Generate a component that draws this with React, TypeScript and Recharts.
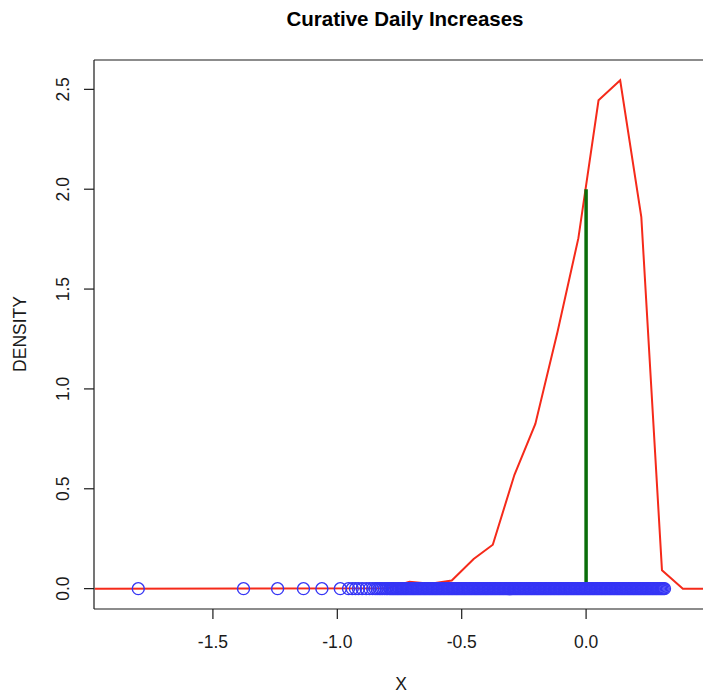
import {
  ComposedChart,
  Line,
  ReferenceLine,
  Scatter,
  XAxis,
  YAxis,
} from "recharts";

// density curve vertices (x, density)
const densityX = [
  -1.975, -0.795, -0.71, -0.626, -0.54, -0.452, -0.375, -0.288, -0.204, -0.115,
  -0.031, 0.05, 0.137, 0.222, 0.305, 0.389, 0.49,
];
const densityY = [
  0, 0.002, 0.035, 0.025, 0.041, 0.148, 0.22, 0.57, 0.825, 1.285, 1.755, 2.445,
  2.545, 1.86, 0.092, 0, 0,
];

// observed values, drawn on the zero line
const sparseX = [
  -1.8, -1.377, -1.24, -1.136, -1.062, -0.988, -0.955, -0.94, -0.927, -0.915,
  -0.9, -0.884, -0.87, -0.858, -0.848, -0.84, -0.832, -0.825, -0.818, -0.81,
  -0.803, -0.797, -0.79, -0.785,
];
const denseX = [
  -0.78, -0.775, -0.77, -0.765, -0.76, -0.755, -0.75, -0.745, -0.74, -0.735,
  -0.73, -0.725, -0.72, -0.715, -0.71, -0.705, -0.7, -0.695, -0.69, -0.685,
  -0.68, -0.675, -0.67, -0.665, -0.66, -0.655, -0.65, -0.645, -0.64, -0.635,
  -0.63, -0.625, -0.62, -0.615, -0.61, -0.605, -0.6, -0.595, -0.59, -0.585,
  -0.58, -0.575, -0.57, -0.565, -0.56, -0.555, -0.55, -0.545, -0.54, -0.535,
  -0.53, -0.525, -0.52, -0.515, -0.51, -0.505, -0.5, -0.495, -0.49, -0.485,
  -0.48, -0.475, -0.47, -0.465, -0.46, -0.455, -0.45, -0.445, -0.44, -0.435,
  -0.43, -0.425, -0.42, -0.415, -0.41, -0.405, -0.4, -0.395, -0.39, -0.385,
  -0.38, -0.375, -0.37, -0.365, -0.36, -0.355, -0.35, -0.345, -0.34, -0.335,
  -0.33, -0.325, -0.32, -0.315, -0.31, -0.305, -0.3, -0.295, -0.29, -0.285,
  -0.28, -0.275, -0.27, -0.265, -0.26, -0.255, -0.25, -0.245, -0.24, -0.235,
  -0.23, -0.225, -0.22, -0.215, -0.21, -0.205, -0.2, -0.195, -0.19, -0.185,
  -0.18, -0.175, -0.17, -0.165, -0.16, -0.155, -0.15, -0.145, -0.14, -0.135,
  -0.13, -0.125, -0.12, -0.115, -0.11, -0.105, -0.1, -0.095, -0.09, -0.085,
  -0.08, -0.075, -0.07, -0.065, -0.06, -0.055, -0.05, -0.045, -0.04, -0.035,
  -0.03, -0.025, -0.02, -0.015, -0.01, -0.005, 0, 0.005, 0.01, 0.015,
  0.02, 0.025, 0.03, 0.035, 0.04, 0.045, 0.05, 0.055, 0.06, 0.065,
  0.07, 0.075, 0.08, 0.085, 0.09, 0.095, 0.1, 0.105, 0.11, 0.115,
  0.12, 0.125, 0.13, 0.135, 0.14, 0.145, 0.15, 0.155, 0.16, 0.165,
  0.17, 0.175, 0.18, 0.185, 0.19, 0.195, 0.2, 0.205, 0.21, 0.215,
  0.22, 0.225, 0.23, 0.235, 0.24, 0.245, 0.25, 0.255, 0.26, 0.265,
  0.27, 0.275, 0.28, 0.285, 0.29, 0.295, 0.3, 0.305, 0.31, 0.315,
];

const xTicks = [-1.5, -1.0, -0.5, 0.0];
const yTicks = [0, 0.5, 1.0, 1.5, 2.0, 2.5];
const meanLine = [
  { x: 0, y: 0 },
  { x: 0, y: 2.0 },
];

const density = densityX.map((x, i) => ({ x, y: densityY[i] }));
const points = [...sparseX, ...denseX].map((x) => ({ x, y: 0 }));

const FONT = "'Liberation Sans', Arial, Helvetica, sans-serif";
const INK = "#1a1a1a";
const LABEL_SIZE = 17.5;

const YTick = (props: any) => {
  const { x, y, payload } = props;
  return (
    <text
      x={x}
      y={y}
      transform={`rotate(-90 ${x} ${y})`}
      textAnchor="middle"
      fontSize={LABEL_SIZE}
      fontFamily={FONT}
      fill={INK}
    >
      {payload.value.toFixed(1)}
    </text>
  );
};

const XTick = (props: any) => {
  const { x, y, payload } = props;
  return (
    <text x={x} y={y} dy="0.71em" textAnchor="middle" fontSize={LABEL_SIZE} fontFamily={FONT} fill={INK}>
      {payload.value.toFixed(1)}
    </text>
  );
};

const Ring = (props: any) => (
  <circle cx={props.cx} cy={props.cy} r={6} fill="none" stroke="#3535f5" strokeWidth={1.4} />
);

export default function App() {
  return (
    <div
      style={{
        position: "fixed",
        left: 0,
        top: 0,
        width: 703,
        height: 692,
        overflow: "hidden",
        background: "#fff",
        fontFamily: FONT,
      }}
    >
      <div
        style={{
          position: "absolute",
          left: 405,
          top: 7,
          transform: "translateX(-50%)",
          fontSize: 20.5,
          fontWeight: "bold",
          whiteSpace: "nowrap",
          color: "#000",
        }}
      >
        Curative Daily Increases
      </div>
      <div
        style={{
          position: "absolute",
          left: 20,
          top: 334,
          transform: "translate(-50%, -50%) rotate(-90deg)",
          fontSize: LABEL_SIZE,
          whiteSpace: "nowrap",
          color: INK,
        }}
      >
        DENSITY
      </div>
      <div
        style={{
          position: "absolute",
          left: 401,
          top: 684,
          transform: "translate(-50%, -50%)",
          fontSize: LABEL_SIZE,
          color: INK,
        }}
      >
        X
      </div>
      <ComposedChart
        width={720}
        height={692}
        margin={{ top: 60, right: 12, left: 0, bottom: 0 }}
        style={{ position: "absolute", left: 0, top: 0 }}
      >
        <XAxis
          type="number"
          dataKey="x"
          domain={[-1.978, 0.49]}
          ticks={xTicks}
          allowDataOverflow
          height={83}
          tickSize={10}
          tickMargin={17}
          tick={<XTick />}
          axisLine={{ stroke: INK, strokeWidth: 1.2 }}
          tickLine={{ stroke: INK, strokeWidth: 1.2 }}
        />
        <YAxis
          type="number"
          dataKey="y"
          domain={[-0.102, 2.647]}
          ticks={yTicks}
          allowDataOverflow
          width={94}
          tickSize={10}
          tickMargin={15}
          tick={<YTick />}
          axisLine={{ stroke: INK, strokeWidth: 1.2 }}
          tickLine={{ stroke: INK, strokeWidth: 1.2 }}
        />
        <ReferenceLine y={2.647} stroke={INK} strokeWidth={1.2} ifOverflow="extendDomain" />
        <Scatter data={points} dataKey="y" shape={<Ring />} isAnimationActive={false} />
        <Line
          data={density}
          dataKey="y"
          type="linear"
          stroke="#f52a1a"
          strokeWidth={2}
          dot={false}
          activeDot={false}
          isAnimationActive={false}
        />
        <ReferenceLine segment={meanLine} stroke="#0a6e0a" strokeWidth={3.5} />
      </ComposedChart>
    </div>
  );
}
